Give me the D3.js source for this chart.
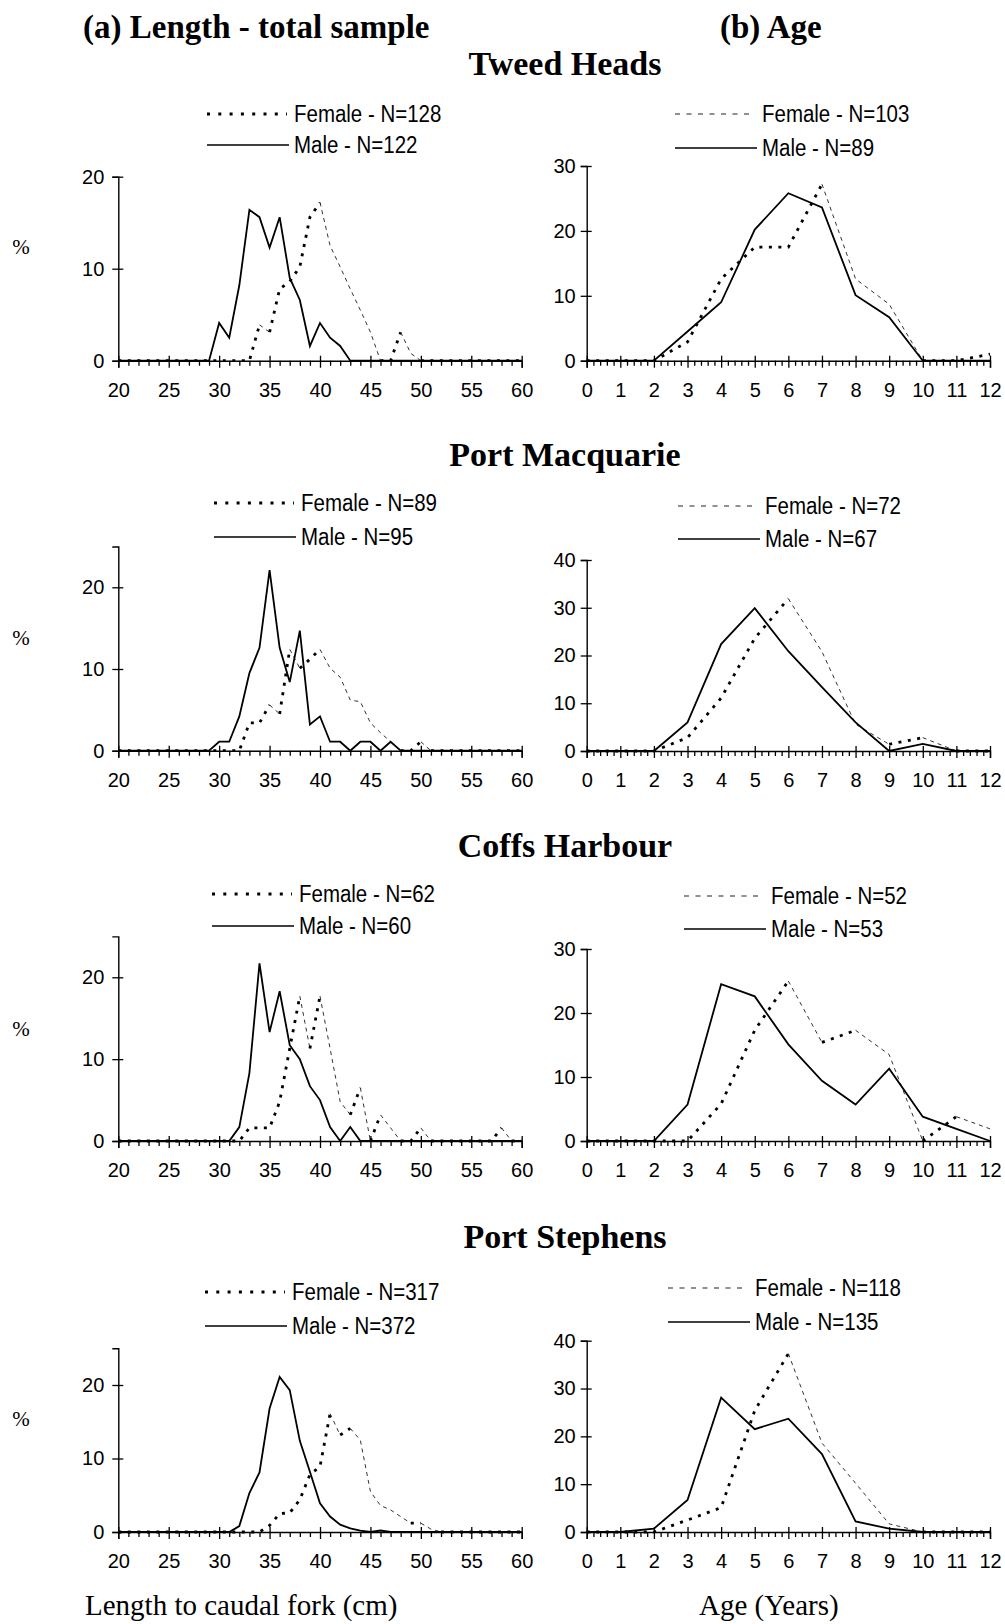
<!DOCTYPE html>
<html>
<head>
<meta charset="utf-8">
<script src="https://cdn.jsdelivr.net/npm/d3@7"></script>
<style>
  html, body { margin: 0; padding: 0; background: #fff; }
  svg { display: block; }
</style>
</head>
<body>
<svg id="fig" width="1005" height="1624"></svg>
<script>
// ---- Data: length-frequency (%) by 1 cm class and age-frequency (%) by year ----
const sites = ["Tweed Heads", "Port Macquarie", "Coffs Harbour", "Port Stephens"];

const lengthCm = [20,21,22,23,24,25,26,27,28,29,30,31,32,33,34,35,36,37,38,39,40,
                  41,42,43,44,45,46,47,48,49,50,51,52,53,54,55,56,57,58,59,60];
const ageYears = [0,1,2,3,4,5,6,7,8,9,10,11,12];

const lengthTicks = [20,25,30,35,40,45,50,55,60];
const ageTicks = [0,1,2,3,4,5,6,7,8,9,10,11,12];

const lengthFemaleN = [128, 89, 62, 317];
const lengthMaleN   = [122, 95, 60, 372];
const ageFemaleN    = [103, 72, 52, 118];
const ageMaleN      = [89, 67, 53, 135];

// Length (cm), 20..60
const tweedLenMale   = [0,0,0,0,0, 0,0,0,0,0, 4.1,2.5,8.2,16.4,15.6, 12.3,15.6,9.0,6.6,1.6, 4.1,2.5,1.6,0,0, 0,0,0,0,0, 0,0,0,0,0, 0,0,0,0,0, 0];
const tweedLenFemale = [0,0,0,0,0, 0,0,0,0,0, 0,0,0,0,3.9, 3.1,7.8,8.6,10.2,15.6, 17.2,12.5,10.2,7.8,5.5, 3.1,0,0,3.1,0.8, 0,0,0,0,0, 0,0,0,0,0, 0];
const pmLenMale      = [0,0,0,0,0, 0,0,0,0,0, 1.1,1.1,4.2,9.5,12.6, 22.1,12.6,8.4,14.7,3.2, 4.2,1.1,1.1,0,1.1, 1.1,0,1.1,0,0, 0,0,0,0,0, 0,0,0,0,0, 0];
const pmLenFemale    = [0,0,0,0,0, 0,0,0,0,0, 0,0,0,3.4,3.4, 5.6,4.5,12.4,10.1,11.2, 12.4,10.1,9.0,6.2,6.0, 3.4,2.2,1.1,0,0, 1.1,0,0,0,0, 0,0,0,0,0, 0];
const coffsLenMale   = [0,0,0,0,0, 0,0,0,0,0, 0,0,1.7,8.3,21.7, 13.3,18.3,11.7,10.0,6.7, 5.0,1.7,0,1.7,0, 0,0,0,0,0, 0,0,0,0,0, 0,0,0,0,0, 0];
const coffsLenFemale = [0,0,0,0,0, 0,0,0,0,0, 0,0,0,1.6,1.6, 1.6,4.8,11.3,17.7,11.3, 17.7,11.3,4.8,3.2,6.5, 0,3.2,1.6,0,0, 1.6,0,0,0,0, 0,0,0,1.6,0, 0];
const psLenMale      = [0,0,0,0,0, 0,0,0,0,0, 0,0,0.8,5.3,8.1, 16.8,21.1,19.3,12.4,8.2, 3.9,2.1,1.0,0.5,0.2, 0,0.2,0,0,0, 0,0,0,0,0, 0,0,0,0,0, 0];
const psLenFemale    = [0,0,0,0,0, 0,0,0,0,0, 0,0,0,0,0, 0.9,2.5,2.6,4.4,7.8, 8.9,16.1,13.2,14.1,12.5, 5.5,3.6,3.0,2.1,1.2, 1.2,0.4,0,0,0, 0,0,0,0,0, 0];

// Age (years), 0..12
const tweedAgeMale   = [0,0,0,4.5,9.0,20.2,25.8,23.6,10.1,6.7,0,0,0];
const tweedAgeFemale = [0,0,0,2.9,12.6,17.5,17.5,27.2,12.6,8.7,0,0,1.0];
const pmAgeMale      = [0,0,0,6.0,22.4,29.9,20.9,13.4,6.0,0,1.5,0,0];
const pmAgeFemale    = [0,0,0,2.8,11.1,23.6,31.9,20.8,5.6,1.4,2.8,0,0];
const coffsAgeMale   = [0,0,0,5.7,24.5,22.6,15.1,9.4,5.7,11.3,3.8,1.9,0];
const coffsAgeFemale = [0,0,0,0,5.8,17.3,25.0,15.4,17.3,13.5,0,3.8,1.9];
const psAgeMale      = [0,0,0.7,6.7,28.1,21.5,23.7,16.3,2.2,0.7,0,0,0];
const psAgeFemale    = [0,0,0,2.5,5.1,25.4,37.3,18.6,10.2,1.7,0,0,0];

const lenMale   = [tweedLenMale, pmLenMale, coffsLenMale, psLenMale];
const lenFemale = [tweedLenFemale, pmLenFemale, coffsLenFemale, psLenFemale];
const ageMale   = [tweedAgeMale, pmAgeMale, coffsAgeMale, psAgeMale];
const ageFemale = [tweedAgeFemale, pmAgeFemale, coffsAgeFemale, psAgeFemale];

const lenYTicks = [[0,10,20],[0,10,20],[0,10,20],[0,10,20]];
const lenYMax   = [20, 25, 25, 25];
const ageYTicks = [[0,10,20,30],[0,10,20,30,40],[0,10,20,30],[0,10,20,30,40]];

// ---- Layout ----
const W = 1005, H = 1624;
const SANS = "'Liberation Sans', Arial, Helvetica, sans-serif";
const SERIF = "'Liberation Serif', 'Times New Roman', Times, serif";
const TICK_FONT = 20;

// per-row geometry: baseline of zero, pixel position of the 20% (length) / top tick (age)
const rowLayout = [
  { title: 75,   lenY0: 360.7, lenY20: 176.7, ageY0: 360.7, ageYTop: 166,   pct: 254,
    legL: { x: 207, y: [114, 145] }, legR: { x: 675, y: [114, 148] } },
  { title: 466,  lenY0: 750.7, lenY20: 587.3, ageY0: 751,   ageYTop: 560,   pct: 645,
    legL: { x: 214, y: [503, 537] }, legR: { x: 678, y: [506, 539] } },
  { title: 857,  lenY0: 1141,  lenY20: 977.3, ageY0: 1141,  ageYTop: 949,   pct: 1036,
    legL: { x: 212, y: [894, 926] }, legR: { x: 684, y: [896, 929] } },
  { title: 1248, lenY0: 1532,  lenY20: 1385,  ageY0: 1532,  ageYTop: 1340.7, pct: 1426,
    legL: { x: 205, y: [1292, 1326] }, legR: { x: 668, y: [1288, 1322] } }
];

const lenX = d3.scaleLinear().domain([20, 60]).range([118.3, 521.7]);
const ageX = d3.scaleLinear().domain([0, 12]).range([586.7, 990]);

const lenMinor = lengthCm.filter(v => v % 5 !== 0);
const ageMinor = [];
ageYears.forEach(a => { if (a < 12) [0.2, 0.4, 0.6, 0.8].forEach(f => ageMinor.push(+(a + f).toFixed(1))); });

const svg = d3.select("#fig");
svg.append("rect").attr("width", W).attr("height", H).attr("fill", "#fff");

// ---- Headings ----
svg.append("text").attr("x", 83).attr("y", 38)
  .attr("font-family", SERIF).attr("font-weight", "bold").attr("font-size", 33)
  .text("(a) Length - total sample");
svg.append("text").attr("x", 720).attr("y", 38)
  .attr("font-family", SERIF).attr("font-weight", "bold").attr("font-size", 33)
  .text("(b) Age");
svg.append("text").attr("x", 85).attr("y", 1615)
  .attr("font-family", SERIF).attr("font-size", 29)
  .text("Length to caudal fork (cm)");
svg.append("text").attr("x", 699).attr("y", 1615)
  .attr("font-family", SERIF).attr("font-size", 29)
  .text("Age (Years)");

// ---- Helpers ----
function drawXAxis(g, x, y0, majors, minors) {
  const minor = g.append("g").attr("transform", `translate(0,${y0})`)
    .call(d3.axisBottom(x).tickValues(minors).tickSize(5).tickFormat(""));
  minor.select(".domain").remove();
  const major = g.append("g").attr("transform", `translate(0,${y0})`)
    .call(d3.axisBottom(x).tickValues(majors).tickSizeOuter(0).tickSize(7).tickPadding(15));
  major.selectAll(".tick line").attr("y1", -5);
  [minor, major].forEach(a => {
    a.selectAll("line").attr("stroke", "#000").attr("stroke-width", 1.3);
  });
  major.select(".domain").attr("stroke", "#000").attr("stroke-width", 1.4);
  major.selectAll("text").attr("font-family", SANS).attr("font-size", TICK_FONT).attr("fill", "#000");
}

function drawYAxis(g, x0, y, ticks, pad) {
  const ax = g.append("g").attr("transform", `translate(${x0},0)`)
    .call(d3.axisLeft(y).tickValues(ticks).tickSizeOuter(0).tickSize(6).tickPadding(pad));
  ax.selectAll(".tick line").attr("x2", -6).attr("x1", 5).attr("stroke", "#000").attr("stroke-width", 1.3);
  ax.select(".domain").attr("stroke", "#000").attr("stroke-width", 1.4);
  ax.selectAll("text").attr("font-family", SANS).attr("font-size", TICK_FONT).attr("fill", "#000");
}

// Female line: rising/flat runs print as heavy dots, falling runs as a fine dash
function drawFemale(g, cats, values, x, y) {
  const runs = [];
  let cur = null;
  for (let i = 0; i < values.length - 1; i++) {
    const kind = values[i + 1] < values[i] ? "thin" : "thick";
    if (!cur || cur.kind !== kind) { cur = { kind, idx: [i] }; runs.push(cur); }
    cur.idx.push(i + 1);
  }
  const line = d3.line().x(i => x(cats[i])).y(i => y(values[i]));
  runs.forEach(r => {
    const p = g.append("path").attr("d", line(r.idx)).attr("fill", "none");
    if (r.kind === "thick") {
      p.attr("stroke", "#000").attr("stroke-width", 2.8).attr("stroke-dasharray", "3,6.5");
    } else {
      p.attr("stroke", "#333").attr("stroke-width", 1).attr("stroke-dasharray", "4,4");
    }
  });
}

function drawMale(g, cats, values, x, y) {
  const line = d3.line().x((d, i) => x(cats[i])).y(d => y(d));
  g.append("path").attr("d", line(values)).attr("fill", "none")
    .attr("stroke", "#000").attr("stroke-width", 1.8).attr("stroke-linejoin", "miter");
}

function drawLegend(g, pos, fN, mN, femaleStyle) {
  const len = 80;
  const fl = g.append("line").attr("x1", pos.x).attr("x2", pos.x + len)
    .attr("y1", pos.y[0]).attr("y2", pos.y[0]);
  if (femaleStyle === "dots") {
    fl.attr("stroke", "#000").attr("stroke-width", 2.8).attr("stroke-dasharray", "3,8.3");
  } else {
    fl.attr("stroke", "#222").attr("stroke-width", 1.2).attr("stroke-dasharray", "5,6.5");
  }
  g.append("line").attr("x1", pos.x).attr("x2", pos.x + len + 2)
    .attr("y1", pos.y[1]).attr("y2", pos.y[1])
    .attr("stroke", "#000").attr("stroke-width", 1.7);
  const labels = [`Female - N=${fN}`, `Male - N=${mN}`];
  labels.forEach((t, k) => {
    g.append("text")
      .attr("transform", `translate(${pos.x + len + 7},${pos.y[k] + 8}) scale(0.89,1)`)
      .attr("font-family", SANS).attr("font-size", 23).attr("fill", "#000")
      .text(t);
  });
}

// ---- Panels ----
sites.forEach((site, r) => {
  const L = rowLayout[r];
  const g = svg.append("g");

  g.append("text").attr("x", 565).attr("y", L.title).attr("text-anchor", "middle")
    .attr("font-family", SERIF).attr("font-weight", "bold").attr("font-size", 34)
    .text(site);

  g.append("text").attr("x", 21).attr("y", L.pct).attr("text-anchor", "middle")
    .attr("font-family", SERIF).attr("font-size", 21).text("%");

  // length panel
  const perPct = (L.lenY0 - L.lenY20) / 20;
  const lenY = d3.scaleLinear().domain([0, lenYMax[r]])
    .range([L.lenY0, L.lenY0 - lenYMax[r] * perPct]);
  drawFemale(g, lengthCm, lenFemale[r], lenX, lenY);
  drawMale(g, lengthCm, lenMale[r], lenX, lenY);
  drawXAxis(g, lenX, L.lenY0, lengthTicks, lenMinor);
  drawYAxis(g, lenX(20), lenY, lenYTicks[r], 8);
  drawLegend(g, L.legL, lengthFemaleN[r], lengthMaleN[r], "dots");

  // age panel
  const ageTicksR = ageYTicks[r];
  const ageTop = ageTicksR[ageTicksR.length - 1];
  const ageY = d3.scaleLinear().domain([0, ageTop]).range([L.ageY0, L.ageYTop]);
  drawFemale(g, ageYears, ageFemale[r], ageX, ageY);
  drawMale(g, ageYears, ageMale[r], ageX, ageY);
  drawXAxis(g, ageX, L.ageY0, ageTicks, ageMinor);
  drawYAxis(g, ageX(0), ageY, ageTicksR, 5);
  drawLegend(g, L.legR, ageFemaleN[r], ageMaleN[r], "dashes");
});
</script>
</body>
</html>
